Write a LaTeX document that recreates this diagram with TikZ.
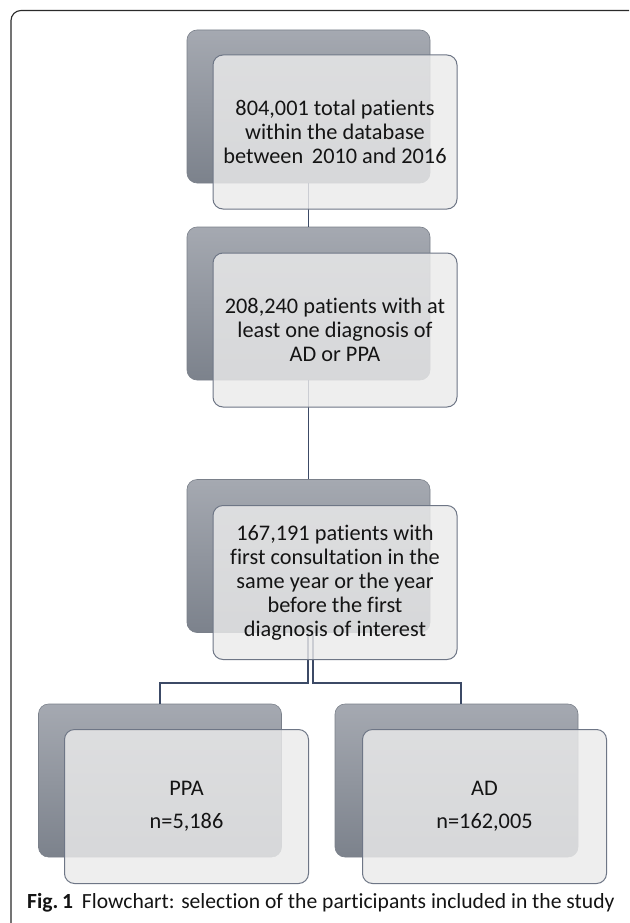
\documentclass[tikz,border=0pt]{standalone}
\usepackage{fontspec}
\setmainfont{Carlito}[RawFeature=-liga]
\begin{document}
\begin{tikzpicture}[x=1pt,y=-1pt,
  darkbox/.style={rectangle, rounded corners=10pt, minimum width=243pt, minimum height=153pt,
    top color=darktop, bottom color=darkbot, draw=darkedge, line width=0.6pt, inner sep=0pt},
  lightbox/.style={rectangle, rounded corners=10pt, minimum width=244pt, minimum height=154pt,
    fill=lightfill, fill opacity=0.82, text opacity=1, draw=lightedge, line width=1pt,
    align=center, font=\fontsize{22.3}{24}\selectfont, text=textcol, inner sep=0pt},
  conn/.style={draw=conncol, line width=1.6pt},
  frame/.style={draw=framecol, line width=1.1pt, rounded corners=10pt}]
\definecolor{darktop}{HTML}{A5A9B1}
\definecolor{darkbot}{HTML}{7C828C}
\definecolor{darkedge}{HTML}{7A808A}
\definecolor{lightfill}{HTML}{EBEBEB}
\definecolor{lightedge}{HTML}{6E7686}
\definecolor{textcol}{HTML}{141414}
\definecolor{conncol}{HTML}{3C4A66}
\definecolor{framecol}{HTML}{2A2A2A}
\useasboundingbox (0,0) rectangle (629,923);
\fill[white] (0,0) rectangle (629,923);
% outer frame (open at right and bottom)
\coordinate (fr1) at (629,10.5);
\coordinate (fr2) at (11,10.5);
\coordinate (fr3) at (11,923);
\draw[frame] (fr1) -- (fr2) -- (fr3);
% dark back boxes
\node[darkbox] (d1) at (308.5,106.5) {};
\node[darkbox] (d2) at (308.5,303.5) {};
\node[darkbox] (d3) at (308.5,556) {};
\node[darkbox] (d4) at (160,780.5) {};
\node[darkbox] (d5) at (456.5,780.5) {};
% connectors
\coordinate (hl) at (0,683);
\draw[conn] (d1.south) -- (d2.north);
\draw[conn] (d2.south) -- (d3.north);
\draw[conn] ([xshift=-0.5pt]d3.south) -- ([xshift=-0.5pt]d3.south |- hl) -| (d4.north);
\draw[conn] ([xshift=4.5pt]d3.south) -- ([xshift=4.5pt]d3.south |- hl) -| ([xshift=4.5pt]d5.north);
% light front boxes
\node[lightbox] (l1) at (335,132) {804,001 total patients\\within the database\\between \,2010 and 2016};
\node[lightbox] (l2) at (335,330) {208,240 patients with at\\least one diagnosis of\\AD or PPA};
\node[lightbox] (l3) at (335,582.5) {167,191 patients with\\first consultation in the\\same year or the year\\before the first\\diagnosis of interest};
\node[lightbox] (l4) at (186.5,806.5) {PPA\\[9pt]n=5,186};
\node[lightbox] (l5) at (484.5,806.5) {AD\\[9pt]n=162,005};
% caption
\node[anchor=base west, inner sep=0pt, text=textcol, font=\fontsize{21.6}{24}\selectfont] (cap) at (27,908)
  {\textbf{Fig.\,1}\hspace{9pt}Flowchart: selection of the participants included in the study};
\end{tikzpicture}
\end{document}
